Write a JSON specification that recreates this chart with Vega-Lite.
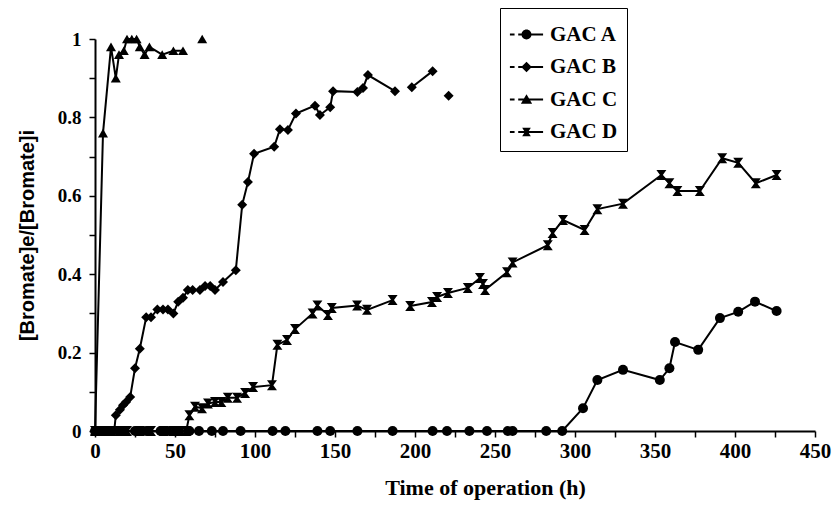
{
  "$schema": "https://vega.github.io/schema/vega-lite/v6.json",
  "width": 720,
  "height": 392,
  "autosize": {"type": "none"},
  "padding": {"left": 95, "top": 39, "right": 22, "bottom": 95},
  "background": "white",
  "config": {
    "view": {"stroke": null},
    "axis": {
      "grid": false,
      "domainColor": "black",
      "domainWidth": 2,
      "tickColor": "black",
      "tickWidth": 1.5,
      "tickSize": 6,
      "labelColor": "black",
      "labelFont": "Liberation Serif",
      "labelFontWeight": "bold",
      "titleColor": "black"
    }
  },
  "data": {
    "values": [
      {"s": "GAC A", "seg": "A1", "t": 0, "v": 0},
      {"s": "GAC A", "seg": "A1", "t": 3, "v": 0},
      {"s": "GAC A", "seg": "A1", "t": 6, "v": 0},
      {"s": "GAC A", "seg": "A1", "t": 9, "v": 0},
      {"s": "GAC A", "seg": "A1", "t": 17, "v": 0},
      {"s": "GAC A", "seg": "A1", "t": 25, "v": 0},
      {"s": "GAC A", "seg": "A1", "t": 32, "v": 0},
      {"s": "GAC A", "seg": "A1", "t": 41, "v": 0},
      {"s": "GAC A", "seg": "A1", "t": 45, "v": 0},
      {"s": "GAC A", "seg": "A1", "t": 52, "v": 0},
      {"s": "GAC A", "seg": "A1", "t": 59, "v": 0},
      {"s": "GAC A", "seg": "A1", "t": 65, "v": 0},
      {"s": "GAC A", "seg": "A1", "t": 73, "v": 0},
      {"s": "GAC A", "seg": "A1", "t": 80, "v": 0},
      {"s": "GAC A", "seg": "A1", "t": 91, "v": 0},
      {"s": "GAC A", "seg": "A1", "t": 111, "v": 0},
      {"s": "GAC A", "seg": "A1", "t": 119, "v": 0},
      {"s": "GAC A", "seg": "A1", "t": 139, "v": 0},
      {"s": "GAC A", "seg": "A1", "t": 147, "v": 0},
      {"s": "GAC A", "seg": "A1", "t": 164, "v": 0},
      {"s": "GAC A", "seg": "A1", "t": 186, "v": 0},
      {"s": "GAC A", "seg": "A1", "t": 211, "v": 0},
      {"s": "GAC A", "seg": "A1", "t": 220, "v": 0},
      {"s": "GAC A", "seg": "A1", "t": 234, "v": 0},
      {"s": "GAC A", "seg": "A1", "t": 245, "v": 0},
      {"s": "GAC A", "seg": "A1", "t": 258, "v": 0},
      {"s": "GAC A", "seg": "A1", "t": 261, "v": 0},
      {"s": "GAC A", "seg": "A1", "t": 282, "v": 0},
      {"s": "GAC A", "seg": "A1", "t": 292, "v": 0},
      {"s": "GAC A", "seg": "A1", "t": 305, "v": 0.058},
      {"s": "GAC A", "seg": "A1", "t": 314, "v": 0.13},
      {"s": "GAC A", "seg": "A1", "t": 330, "v": 0.156},
      {"s": "GAC A", "seg": "A1", "t": 353, "v": 0.13},
      {"s": "GAC A", "seg": "A1", "t": 359, "v": 0.16},
      {"s": "GAC A", "seg": "A1", "t": 362.5, "v": 0.227},
      {"s": "GAC A", "seg": "A1", "t": 377, "v": 0.207},
      {"s": "GAC A", "seg": "A1", "t": 390.6, "v": 0.288},
      {"s": "GAC A", "seg": "A1", "t": 402, "v": 0.304},
      {"s": "GAC A", "seg": "A1", "t": 412.5, "v": 0.33},
      {"s": "GAC A", "seg": "A1", "t": 426, "v": 0.306},

      {"s": "GAC B", "seg": "B1", "t": 0, "v": 0},
      {"s": "GAC B", "seg": "B1", "t": 4, "v": 0},
      {"s": "GAC B", "seg": "B1", "t": 8, "v": 0},
      {"s": "GAC B", "seg": "B1", "t": 12, "v": 0},
      {"s": "GAC B", "seg": "B1", "t": 13, "v": 0.04},
      {"s": "GAC B", "seg": "B1", "t": 15.6, "v": 0.054},
      {"s": "GAC B", "seg": "B1", "t": 17.5, "v": 0.066},
      {"s": "GAC B", "seg": "B1", "t": 19.4, "v": 0.074},
      {"s": "GAC B", "seg": "B1", "t": 22, "v": 0.087},
      {"s": "GAC B", "seg": "B1", "t": 25, "v": 0.16},
      {"s": "GAC B", "seg": "B1", "t": 28, "v": 0.21},
      {"s": "GAC B", "seg": "B1", "t": 32, "v": 0.29},
      {"s": "GAC B", "seg": "B1", "t": 35, "v": 0.29},
      {"s": "GAC B", "seg": "B1", "t": 39, "v": 0.31},
      {"s": "GAC B", "seg": "B1", "t": 42.5, "v": 0.31},
      {"s": "GAC B", "seg": "B1", "t": 45.6, "v": 0.31},
      {"s": "GAC B", "seg": "B1", "t": 49, "v": 0.3},
      {"s": "GAC B", "seg": "B1", "t": 52, "v": 0.33},
      {"s": "GAC B", "seg": "B1", "t": 55, "v": 0.34},
      {"s": "GAC B", "seg": "B1", "t": 58, "v": 0.36},
      {"s": "GAC B", "seg": "B1", "t": 61, "v": 0.36},
      {"s": "GAC B", "seg": "B1", "t": 65.6, "v": 0.36},
      {"s": "GAC B", "seg": "B1", "t": 68.8, "v": 0.37},
      {"s": "GAC B", "seg": "B1", "t": 72, "v": 0.37},
      {"s": "GAC B", "seg": "B1", "t": 75, "v": 0.36},
      {"s": "GAC B", "seg": "B1", "t": 80, "v": 0.38},
      {"s": "GAC B", "seg": "B1", "t": 88, "v": 0.41},
      {"s": "GAC B", "seg": "B1", "t": 92, "v": 0.577},
      {"s": "GAC B", "seg": "B1", "t": 95.6, "v": 0.635},
      {"s": "GAC B", "seg": "B1", "t": 99.4, "v": 0.707},
      {"s": "GAC B", "seg": "B1", "t": 112, "v": 0.725},
      {"s": "GAC B", "seg": "B1", "t": 115.6, "v": 0.77},
      {"s": "GAC B", "seg": "B1", "t": 120.6, "v": 0.768},
      {"s": "GAC B", "seg": "B1", "t": 125.6, "v": 0.81},
      {"s": "GAC B", "seg": "B1", "t": 137.5, "v": 0.83},
      {"s": "GAC B", "seg": "B1", "t": 140.6, "v": 0.806},
      {"s": "GAC B", "seg": "B1", "t": 147, "v": 0.826},
      {"s": "GAC B", "seg": "B1", "t": 148.8, "v": 0.867},
      {"s": "GAC B", "seg": "B1", "t": 164, "v": 0.865},
      {"s": "GAC B", "seg": "B1", "t": 167.5, "v": 0.875},
      {"s": "GAC B", "seg": "B1", "t": 170.6, "v": 0.908},
      {"s": "GAC B", "seg": "B1", "t": 187.5, "v": 0.867},
      {"s": "GAC B", "seg": "B2", "t": 198, "v": 0.877},
      {"s": "GAC B", "seg": "B2", "t": 211, "v": 0.918},
      {"s": "GAC B", "seg": "B3", "t": 221, "v": 0.855},

      {"s": "GAC C", "seg": "C1", "t": 0, "v": 0},
      {"s": "GAC C", "seg": "C1", "t": 5, "v": 0.76},
      {"s": "GAC C", "seg": "C1", "t": 10, "v": 0.98},
      {"s": "GAC C", "seg": "C1", "t": 13, "v": 0.9},
      {"s": "GAC C", "seg": "C1", "t": 15, "v": 0.96},
      {"s": "GAC C", "seg": "C1", "t": 18, "v": 0.97},
      {"s": "GAC C", "seg": "C1", "t": 20, "v": 1.0},
      {"s": "GAC C", "seg": "C1", "t": 23, "v": 1.0},
      {"s": "GAC C", "seg": "C1", "t": 26, "v": 1.0},
      {"s": "GAC C", "seg": "C1", "t": 28, "v": 0.98},
      {"s": "GAC C", "seg": "C1", "t": 31, "v": 0.96},
      {"s": "GAC C", "seg": "C1", "t": 34, "v": 0.98},
      {"s": "GAC C", "seg": "C1", "t": 42, "v": 0.96},
      {"s": "GAC C", "seg": "C1", "t": 49, "v": 0.97},
      {"s": "GAC C", "seg": "C1", "t": 55, "v": 0.97},
      {"s": "GAC C", "seg": "C2", "t": 67, "v": 1.0},

      {"s": "GAC D", "seg": "D1", "t": 0, "v": 0},
      {"s": "GAC D", "seg": "D1", "t": 5, "v": 0},
      {"s": "GAC D", "seg": "D1", "t": 10, "v": 0},
      {"s": "GAC D", "seg": "D1", "t": 15, "v": 0},
      {"s": "GAC D", "seg": "D1", "t": 20, "v": 0},
      {"s": "GAC D", "seg": "D1", "t": 28, "v": 0},
      {"s": "GAC D", "seg": "D1", "t": 35, "v": 0},
      {"s": "GAC D", "seg": "D1", "t": 43, "v": 0},
      {"s": "GAC D", "seg": "D1", "t": 49, "v": 0},
      {"s": "GAC D", "seg": "D1", "t": 54, "v": 0},
      {"s": "GAC D", "seg": "D1", "t": 57, "v": 0},
      {"s": "GAC D", "seg": "D1", "t": 59, "v": 0.04},
      {"s": "GAC D", "seg": "D1", "t": 62.5, "v": 0.062},
      {"s": "GAC D", "seg": "D1", "t": 66.9, "v": 0.058},
      {"s": "GAC D", "seg": "D1", "t": 70.6, "v": 0.07},
      {"s": "GAC D", "seg": "D1", "t": 75, "v": 0.074},
      {"s": "GAC D", "seg": "D1", "t": 79, "v": 0.074},
      {"s": "GAC D", "seg": "D1", "t": 83, "v": 0.085},
      {"s": "GAC D", "seg": "D1", "t": 88.8, "v": 0.085},
      {"s": "GAC D", "seg": "D1", "t": 93.8, "v": 0.097},
      {"s": "GAC D", "seg": "D1", "t": 98.8, "v": 0.112},
      {"s": "GAC D", "seg": "D1", "t": 110.6, "v": 0.117},
      {"s": "GAC D", "seg": "D1", "t": 114, "v": 0.22},
      {"s": "GAC D", "seg": "D1", "t": 120, "v": 0.232},
      {"s": "GAC D", "seg": "D1", "t": 125, "v": 0.26},
      {"s": "GAC D", "seg": "D1", "t": 136, "v": 0.3},
      {"s": "GAC D", "seg": "D1", "t": 139, "v": 0.32},
      {"s": "GAC D", "seg": "D1", "t": 145.6, "v": 0.296},
      {"s": "GAC D", "seg": "D1", "t": 148, "v": 0.314},
      {"s": "GAC D", "seg": "D1", "t": 163.8, "v": 0.32},
      {"s": "GAC D", "seg": "D1", "t": 170, "v": 0.309},
      {"s": "GAC D", "seg": "D1", "t": 186, "v": 0.334},
      {"s": "GAC D", "seg": "D2", "t": 197, "v": 0.319},
      {"s": "GAC D", "seg": "D2", "t": 210.6, "v": 0.329},
      {"s": "GAC D", "seg": "D2", "t": 213.8, "v": 0.342},
      {"s": "GAC D", "seg": "D2", "t": 220.6, "v": 0.352},
      {"s": "GAC D", "seg": "D2", "t": 233, "v": 0.365},
      {"s": "GAC D", "seg": "D2", "t": 240.6, "v": 0.39},
      {"s": "GAC D", "seg": "D2", "t": 242.5, "v": 0.375},
      {"s": "GAC D", "seg": "D2", "t": 243.8, "v": 0.36},
      {"s": "GAC D", "seg": "D2", "t": 257.5, "v": 0.405},
      {"s": "GAC D", "seg": "D2", "t": 261, "v": 0.43},
      {"s": "GAC D", "seg": "D2", "t": 283, "v": 0.474},
      {"s": "GAC D", "seg": "D2", "t": 286, "v": 0.505},
      {"s": "GAC D", "seg": "D2", "t": 292.5, "v": 0.538},
      {"s": "GAC D", "seg": "D2", "t": 306, "v": 0.513},
      {"s": "GAC D", "seg": "D2", "t": 314, "v": 0.566},
      {"s": "GAC D", "seg": "D2", "t": 330, "v": 0.58},
      {"s": "GAC D", "seg": "D2", "t": 354, "v": 0.653},
      {"s": "GAC D", "seg": "D2", "t": 359, "v": 0.632},
      {"s": "GAC D", "seg": "D2", "t": 364, "v": 0.612},
      {"s": "GAC D", "seg": "D2", "t": 378, "v": 0.612},
      {"s": "GAC D", "seg": "D2", "t": 392, "v": 0.696},
      {"s": "GAC D", "seg": "D2", "t": 402, "v": 0.684},
      {"s": "GAC D", "seg": "D2", "t": 413, "v": 0.632},
      {"s": "GAC D", "seg": "D2", "t": 426, "v": 0.653}
    ]
  },
  "encoding": {
    "x": {
      "field": "t",
      "type": "quantitative",
      "scale": {"domain": [0, 450], "nice": false},
      "axis": {
        "values": [0, 25, 50, 75, 100, 125, 150, 175, 200, 225, 250, 275, 300, 325, 350, 375, 400, 425, 450],
        "labelExpr": "datum.value % 50 === 0 ? datum.label : ''",
        "labelFontSize": 21,
        "labelPadding": 3,
        "labelFlush": false,
        "title": "Time of operation (h)",
        "titleFont": "Liberation Serif",
        "titleFontSize": 22,
        "titleFontWeight": "bold",
        "titlePadding": 16,
        "titleX": 390
      }
    },
    "y": {
      "field": "v",
      "type": "quantitative",
      "scale": {"domain": [0, 1], "nice": false},
      "axis": {
        "values": [0, 0.1, 0.2, 0.3, 0.4, 0.5, 0.6, 0.7, 0.8, 0.9, 1],
        "format": "~g",
        "labelExpr": "round(datum.value * 10) % 2 === 0 ? datum.label : ''",
        "labelFontSize": 19,
        "labelPadding": 8,
        "labelFlush": false,
        "title": "[Bromate]e/[Bromate]i",
        "titleFont": "Liberation Sans",
        "titleFontSize": 20,
        "titleFontWeight": "bold",
        "titlePadding": 20
      }
    }
  },
  "resolve": {"scale": {"shape": "independent"}, "legend": {"shape": "independent"}},
  "layer": [
    {
      "mark": {"type": "line", "color": "black", "strokeWidth": 2},
      "encoding": {"detail": {"field": "seg"}}
    },
    {
      "mark": {"type": "point", "filled": true, "color": "black", "opacity": 1, "size": 100},
      "encoding": {
        "shape": {
          "field": "s",
          "type": "nominal",
          "scale": {
            "domain": ["GAC A", "GAC B", "GAC C", "GAC D"],
            "range": ["circle", "diamond", "triangle-up", "M-1,-1H1L0.28,0L1,1H-1L-0.28,0Z"]
          },
          "legend": null
        }
      }
    },
    {
      "transform": [{"filter": "false"}],
      "mark": {"type": "point", "filled": true, "color": "black", "opacity": 1, "size": 1100},
      "encoding": {
        "shape": {
          "field": "s",
          "type": "nominal",
          "scale": {
            "domain": ["GAC A", "GAC B", "GAC C", "GAC D"],
            "range": [
              "M-1,-0.06H-0.72V0.06H-1Z M-0.5,-0.06H1V0.06H-0.5Z M-0.3,0A0.3,0.3 0 1,1 0.3,0A0.3,0.3 0 1,1 -0.3,0Z",
              "M-1,-0.06H-0.72V0.06H-1Z M-0.5,-0.06H1V0.06H-0.5Z M0,-0.32L0.32,0L0,0.32L-0.32,0Z",
              "M-1,-0.06H-0.72V0.06H-1Z M-0.5,-0.06H1V0.06H-0.5Z M0,-0.32L0.34,0.26H-0.34Z",
              "M-1,-0.06H-0.72V0.06H-1Z M-0.5,-0.06H1V0.06H-0.5Z M-0.26,-0.26H0.26L0.1,0L0.26,0.26H-0.26L-0.1,0Z"
            ]
          },
          "legend": {
            "title": null,
            "orient": "none",
            "legendX": 405,
            "legendY": -31,
            "strokeColor": "black",
            "padding": 9,
            "symbolSize": 1100,
            "rowPadding": 4.5,
            "symbolFillColor": "black",
            "labelFont": "Liberation Serif",
            "labelFontSize": 21,
            "labelFontWeight": "bold",
            "labelColor": "black",
            "labelOffset": 6,
            "encode": {
              "legend": {"update": {"strokeWidth": {"value": 2}}}
            }
          }
        }
      }
    }
  ]
}
